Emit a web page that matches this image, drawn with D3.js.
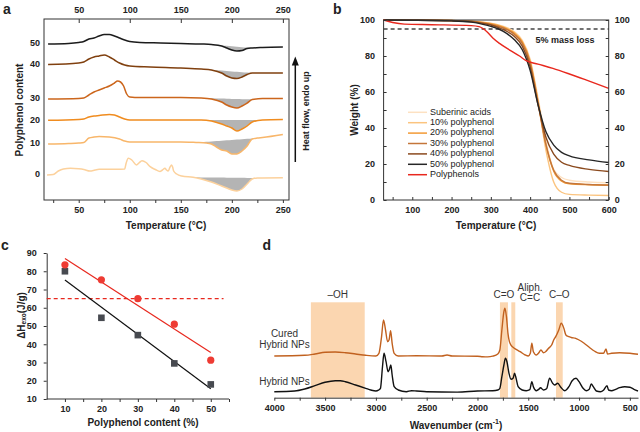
<!DOCTYPE html>
<html><head><meta charset="utf-8">
<script src="https://cdn.jsdelivr.net/npm/d3@7"></script>
<style>body{margin:0;background:#fff} svg{display:block}</style>
</head><body>
<svg id="c" width="640" height="432"></svg>
<script>
// ================= DATA =================
// Panel a: DSC curves [temperature (°C), heat flow (a.u., stacked)]
const dscLabels = ["50","40","30","20","10","0"];
const dsc50 = [[20,156],[40,156.5],[50,157.5],[55,158.5],[60,161],[65,162],[70,164],[75,165.5],[80,165.5],[85,164],[90,162],[95,160],[100,158.5],[110,157.5],[130,157],[150,156.5],[170,156],[180,155.5],[190,154],[195,152],[200,150],[205,149],[210,149.5],[215,151.5],[220,152],[230,152.5],[250,153]];
const dsc40 = [[20,135.5],[50,137],[55,138],[60,141],[65,143],[70,144],[75,145],[80,143],[85,140],[90,137],[95,135],[100,134],[120,133],[150,132],[170,131],[180,130],[190,127],[195,124],[200,122],[205,121.5],[210,123],[215,125.5],[220,127],[230,127],[250,127]];
const dsc30 = [[20,101],[50,101.5],[55,102],[60,105],[65,108],[70,110],[75,112],[80,114],[85,117],[88,119],[91,118],[94,114],[97,106],[100,103],[110,102.5],[150,102.5],[170,102],[180,101],[190,98],[195,95],[200,93],[205,92],[210,94],[215,97],[220,100.5],[230,101.5],[250,101.5]];
const dsc20 = [[20,79.7],[50,80.5],[55,81],[60,83],[65,84],[70,84.5],[80,85.5],[85,85],[90,83],[95,81],[100,80],[150,80],[170,80],[180,79],[190,76],[195,74],[200,72],[205,69],[210,71],[215,74],[220,78],[230,80],[250,80.5]];
const dsc10 = [[20,56],[40,56.5],[50,57],[55,57.5],[60,62],[65,63],[70,63.5],[80,63],[90,61],[95,59],[100,58],[150,58],[165,57.5],[175,57],[180,56],[185,53],[190,50],[195,49],[200,46],[205,46],[210,49],[215,54],[220,61],[225,62],[230,62.5],[250,65.5]];
const dsc0 = [[19,25],[25,25.5],[30,29],[35,31],[42,31.7],[50,31.2],[55,30.5],[61,29],[66,30],[70,30.7],[87,30.7],[95,31],[96.5,37],[98.6,41.7],[102,40],[106.7,35],[109,37],[112,39.3],[116,37.5],[120,33.3],[125,30.5],[129.6,28.5],[132,30],[134.5,31.7],[136,30],[137.7,29],[139.5,33],[141,35],[142,33],[143,29],[146,26],[151,24],[162,22.7],[170,21],[180,18],[190,14],[195,12],[200,10],[205,9],[210,11],[215,16],[220,21],[225,22],[250,22.3]];
const dscPeakRanges = [[180,220],[170,220],[170,220],[170,230],[165,225],[162,225]];

// Panel b: TGA [temperature (°C)] and weight (%)
const tgaTemps = [27,100,200,250,280,300,320,340,360,380,400,420,440,460,480,500,550,600];
const tgaSuberinic = [100,100,99.8,99.4,98.7,98.2,97.3,95.9,93.5,88.8,78.5,57,33,17,12.5,11,10,9.6];
const tga10 = [100,100,99.8,99.4,98.7,98.1,97.1,95.6,93.2,88.3,77.5,55,28,10,4.3,3.1,2.7,2.5];
const tga20 = [100,100,99.7,99.3,98.6,97.9,96.8,95.2,92.6,87.8,77,55,31,16,10.5,9,8.5,8.2];
const tga30 = [100,100,99.7,99.2,98.4,97.6,96.4,94.8,92,87,76,54,31,16.5,11,9.3,8.6,8.3];
const tga40 = [100,99.9,99.6,99,98.1,97.2,95.8,93.8,90.8,85.5,74,53,35,25.5,21,19.2,17,15.8];
const tga50 = [100,99.9,99.5,98.8,97.6,96.5,95,92.6,89,83.5,72,53,38,30.5,26.5,24.5,22.3,20.8];
const tgaPolyphenols = [[27,100],[50,98.6],[80,97.7],[150,97.4],[250,96.9],[270,96.3],[290,93.5],[305,90],[322,87],[348,83.3],[373,80],[390,77.4],[420,75.5],[458,73.1],[500,70],[542,66.7],[600,62]];
const tgaNames = ["Suberinic acids","10% polyphenol","20% polyphenol","30% polyphenol","40% polyphenol","50% polyphenol","Polyphenols"];
const massLossLevel = 95;

// Panel c: exothermic enthalpy vs polyphenol content
const cContent = [10,20,30,40,50];
const cRed = [83.5,75.3,65,51,31.3];
const cBlack = [80,54.5,45,29.5,18];
const cThreshold = 65;

// Panel d: FTIR [wavenumber (cm-1), absorbance (a.u., stacked)]
const ftirHybrid = [[4000,6],[3800,6.7],[3700,8.7],[3600,12],[3500,15.4],[3400,17],[3350,17],[3300,16],[3200,12.7],[3100,9.4],[3050,7.7],[3000,6.7],[2975,7.5],[2955,9.4],[2935,31],[2920,44.4],[2900,36],[2880,26],[2868,28],[2853,32.7],[2840,22.7],[2820,11],[2780,7.7],[2700,6],[2650,7],[2600,6.7],[2500,6],[2200,5.6],[2000,6.7],[1850,7],[1800,7.7],[1780,9.4],[1760,21],[1740,32.7],[1725,39.4],[1710,36],[1690,24.4],[1670,18.4],[1650,19.4],[1635,24.4],[1620,19.4],[1600,11],[1560,7.7],[1520,7],[1485,8],[1465,16],[1450,11],[1420,7],[1395,8.5],[1380,10],[1350,7.7],[1320,9],[1290,19.4],[1260,14.4],[1240,12.7],[1210,14.4],[1180,10.4],[1140,7],[1100,11],[1070,16.7],[1030,19.4],[1000,16],[960,9.4],[930,7],[900,8.4],[880,13.7],[860,11],[830,6.7],[790,6],[760,7.5],[725,12],[710,7.7],[680,7],[640,8.4],[600,10],[550,11],[500,10.4],[460,8.4],[420,6.7]];
const ftirCured = [[4000,41.7],[3700,42.4],[3600,43.7],[3500,45.4],[3400,45.7],[3300,45],[3200,43.7],[3100,42.4],[3000,41.7],[2970,44.4],[2945,60.4],[2925,77.7],[2905,67.7],[2885,56],[2870,58],[2855,67],[2840,54.4],[2820,44.4],[2780,41.7],[2600,42],[2350,41.7],[2300,42.7],[2250,41.7],[2000,41.5],[1950,41],[1900,40.8],[1850,41.5],[1800,43.7],[1780,47.7],[1760,67.7],[1740,86],[1730,89.4],[1715,81],[1700,64.4],[1680,54.4],[1650,50.4],[1620,48.4],[1580,46],[1530,42.7],[1500,41.7],[1480,44.4],[1465,54.4],[1450,46],[1420,42.7],[1400,44.4],[1375,47.7],[1350,45],[1330,46],[1300,49.4],[1270,52.7],[1250,57.7],[1230,61],[1200,67.7],[1175,74.4],[1150,69.4],[1130,62.7],[1100,61],[1070,60],[1040,59.5],[1000,57.7],[950,54.4],[900,50.4],[850,46.7],[800,44.4],[760,44.4],[735,48.7],[720,43.7],[680,44.4],[600,45],[500,44.4],[420,43.4]];
const ftirBandNames = ["–OH","C=O","Aliph. C=C","C–O"];
const ftirBands = [[3640,3110],[1779,1700],[1667,1628],[1227,1161]];
const ftirBandTop = 95.4;

// ================= DRAW =================
const FONT = '"Liberation Sans", Arial, Helvetica, sans-serif';
const svg = d3.select("#c");
svg.append("rect").attr("width",640).attr("height",432).attr("fill","#fff");

function styleAxis(g, size, bold) {
  g.attr("font-family", FONT).attr("font-size", size).attr("font-weight", bold ? "bold" : "normal");
  g.selectAll(".domain").attr("stroke", "#333");
  g.selectAll(".tick line").attr("stroke", "#333");
  g.selectAll(".tick text").attr("fill", "#222");
}
function txt(x, y, s, opt = {}) {
  const t = svg.append("text").attr("x", x).attr("y", y)
    .attr("font-family", FONT).attr("font-size", opt.size || 10)
    .attr("font-weight", opt.weight || "bold").attr("fill", opt.fill || "#222")
    .attr("text-anchor", opt.anchor || "middle").attr("dominant-baseline", opt.baseline || "middle");
  if (opt.rotate) t.attr("transform", `rotate(${opt.rotate},${x},${y})`);
  if (s !== null) t.text(s);
  return t;
}

// ---- Panel a
const xa = d3.scaleLinear().domain([16, 256]).range([44, 289]);
const ya = d3.scaleLinear().domain([0, 181]).range([200, 19]);
const dscSeries = [dsc50, dsc40, dsc30, dsc20, dsc10, dsc0];
const dscColors = ["#1c1c1c", "#80400f", "#cc661c", "#f08c1f", "#f8b66a", "#fcd19c"];
const ga = svg.append("g");
dscSeries.forEach((s, i) => {
  const [t1, t2] = dscPeakRanges[i];
  const pts = s.filter(p => p[0] >= t1 && p[0] <= t2);
  const v1 = pts[0][1], v2 = pts[pts.length - 1][1];
  const base = t => v1 + (v2 - v1) * (t - t1) / (t2 - t1);
  ga.append("path").datum(pts)
    .attr("d", d3.area().x(d => xa(d[0])).y0(d => ya(base(d[0]))).y1(d => ya(Math.min(d[1], base(d[0])))).curve(d3.curveMonotoneX))
    .attr("fill", "#b4b4b4");
});
dscSeries.forEach((s, i) => {
  ga.append("path").datum(s)
    .attr("d", d3.line().x(d => xa(d[0])).y(d => ya(d[1])).curve(d3.curveMonotoneX))
    .attr("fill", "none").attr("stroke", dscColors[i]).attr("stroke-width", 1.5);
  txt(40, ya(s[0][1]), dscLabels[i], { size: 9, anchor: "end" });
});
ga.append("rect").attr("x", xa(16)).attr("y", ya(181)).attr("width", xa(256) - xa(16)).attr("height", ya(0) - ya(181))
  .attr("fill", "none").attr("stroke", "#333").attr("stroke-width", 1);
const axATop = svg.append("g").attr("transform", `translate(0,${ya(181)})`)
  .call(d3.axisTop(xa).tickValues([50, 100, 150, 200, 250]).tickSizeInner(-4).tickSizeOuter(0).tickPadding(6.5).tickFormat(d3.format("d")));
axATop.select(".domain").remove(); styleAxis(axATop, 9, true);
const axABot = svg.append("g").attr("transform", `translate(0,${ya(0)})`)
  .call(d3.axisBottom(xa).tickValues(d3.range(25, 251, 25)).tickSize(3).tickSizeOuter(0).tickPadding(3.5).tickFormat(d => d % 50 === 0 ? d : ""));
axABot.select(".domain").remove(); styleAxis(axABot, 9, true);
txt(166, 226.5, "Temperature (°C)", { size: 10 });
txt(20, 110, "Polyphenol content", { size: 10, rotate: -90 });
// heat flow arrow
svg.append("line").attr("x1", 295.3).attr("x2", 295.3).attr("y1", 162).attr("y2", 64).attr("stroke", "#111").attr("stroke-width", 1.5);
svg.append("path").attr("d", "M295.3,56.5 L291.8,65.5 L298.8,65.5 Z").attr("fill", "#111");
txt(307, 111, "Heat flow, endo up", { size: 9, rotate: -90 });
txt(3, 14, "a", { size: 14, anchor: "start", baseline: "auto" });

// ---- Panel b
const xb = d3.scaleLinear().domain([27, 600]).range([383.6, 608.7]);
const yb = d3.scaleLinear().domain([0, 100]).range([200, 20]);
const tgaSeries = [tgaSuberinic, tga10, tga20, tga30, tga40, tga50].map(arr => arr.map((v, i) => [tgaTemps[i], v]));
tgaSeries.push(tgaPolyphenols);
const tgaColors = ["#fde1c2", "#fbc47f", "#f39a35", "#c4763a", "#8b4a1e", "#262626", "#e8281e"];
const gb = svg.append("g");
gb.append("line").attr("x1", xb(27)).attr("x2", xb(600)).attr("y1", yb(massLossLevel)).attr("y2", yb(massLossLevel))
  .attr("stroke", "#444").attr("stroke-width", 1.4).attr("stroke-dasharray", "4,3");
tgaSeries.forEach((s, i) => {
  gb.append("path").datum(s)
    .attr("d", d3.line().x(d => xb(d[0])).y(d => yb(d[1])).curve(d3.curveMonotoneX))
    .attr("fill", "none").attr("stroke", tgaColors[i]).attr("stroke-width", 1.4);
});
gb.append("rect").attr("x", xb(27)).attr("y", yb(100)).attr("width", xb(600) - xb(27)).attr("height", yb(0) - yb(100))
  .attr("fill", "none").attr("stroke", "#333").attr("stroke-width", 1);
const axBBot = svg.append("g").attr("transform", `translate(0,${yb(0)})`)
  .call(d3.axisBottom(xb).tickValues(d3.range(50, 601, 50)).tickSizeInner(-3).tickSizeOuter(0).tickPadding(6.5).tickFormat(d => d % 100 === 0 ? d : ""));
axBBot.select(".domain").remove(); styleAxis(axBBot, 9, true);
const axBL = svg.append("g").attr("transform", `translate(${xb(27)},0)`)
  .call(d3.axisLeft(yb).tickValues(d3.range(0, 101, 10)).tickSizeInner(-3).tickSizeOuter(0).tickPadding(8.5).tickFormat(d => d % 20 === 0 ? d : ""));
axBL.select(".domain").remove(); styleAxis(axBL, 9, true);
const axBR = svg.append("g").attr("transform", `translate(${xb(600)},0)`)
  .call(d3.axisRight(yb).tickValues(d3.range(0, 101, 10)).tickSizeInner(-3).tickSizeOuter(0).tickPadding(6).tickFormat(d => d % 20 === 0 ? d : ""));
axBR.select(".domain").remove(); styleAxis(axBR, 9, true);
txt(496, 226.5, "Temperature (°C)", { size: 10 });
txt(355, 110, "Weight (%)", { size: 10, rotate: -90 });
txt(565, 40.5, "5% mass loss", { size: 9 });
tgaNames.forEach((n, i) => {
  const y = 112.3 + i * 10.4;
  svg.append("line").attr("x1", 408).attr("x2", 427).attr("y1", y).attr("y2", y).attr("stroke", tgaColors[i]).attr("stroke-width", 1.5);
  txt(430, y, n, { size: 9, weight: "normal", anchor: "start" });
});
txt(333, 14, "b", { size: 14, anchor: "start", baseline: "auto" });

// ---- Panel c
const xc = d3.scaleLinear().domain([5, 55]).range([46.7, 229]);
const yc = d3.scaleLinear().domain([10, 90]).range([399, 253]);
const axCB = svg.append("g").attr("transform", `translate(0,${yc(10)})`)
  .call(d3.axisBottom(xc).tickValues(d3.range(10, 56, 5)).tickSize(3).tickSizeOuter(0).tickPadding(4).tickFormat(d => d % 10 === 0 ? d : ""));
styleAxis(axCB, 9, true);
axCB.select(".domain").attr("d", `M${xc(5)},0H${xc(55)}`);
const axCL = svg.append("g").attr("transform", `translate(${xc(5)},0)`)
  .call(d3.axisLeft(yc).tickValues(d3.range(10, 91, 10)).tickSize(3).tickSizeOuter(0).tickPadding(7));
styleAxis(axCL, 9, true);
function fit(xs, ys) {
  const mx = d3.mean(xs), my = d3.mean(ys);
  const b = d3.sum(xs, (x, i) => (x - mx) * (ys[i] - my)) / d3.sum(xs, x => (x - mx) ** 2);
  return x => my + b * (x - mx);
}
const fr = fit(cContent, cRed), fb = fit(cContent, cBlack);
svg.append("line").attr("x1", xc(5)).attr("x2", xc(53.5)).attr("y1", yc(cThreshold)).attr("y2", yc(cThreshold))
  .attr("stroke", "#e8281e").attr("stroke-width", 1.4).attr("stroke-dasharray", "4,3");
[[fr, "#e8281e"], [fb, "#111"]].forEach(([f, c]) => {
  svg.append("line").attr("x1", xc(10)).attr("x2", xc(50)).attr("y1", yc(f(10))).attr("y2", yc(f(50)))
    .attr("stroke", c).attr("stroke-width", 1.2);
});
svg.append("g").selectAll("rect").data(cContent).join("rect")
  .attr("x", (d) => xc(d) - 3.3).attr("y", (d, i) => yc(cBlack[i]) - 3.3).attr("width", 6.6).attr("height", 6.6).attr("fill", "#474a50");
svg.append("g").selectAll("circle").data(cContent).join("circle")
  .attr("cx", d => xc(d)).attr("cy", (d, i) => yc(cRed[i])).attr("r", 3.6).attr("fill", "#ee3b33");
txt(143, 423.3, "Polyphenol content (%)", { size: 10 });
const yl = txt(21.7, 315.5, null, { size: 10, rotate: -90 });
yl.append("tspan").text("ΔH");
yl.append("tspan").attr("font-size", 6.5).attr("dy", 2.5).text("exo");
yl.append("tspan").attr("dy", -2.5).text("(J/g)");
txt(1, 250, "c", { size: 14, anchor: "start", baseline: "auto" });

// ---- Panel d
const xd = d3.scaleLinear().domain([4000, 420]).range([274.3, 638]);
const yd = d3.scaleLinear().domain([0, 100]).range([397.7, 297.7]);
ftirBands.forEach(([a, b]) => {
  svg.append("rect").attr("x", xd(a)).attr("width", xd(b) - xd(a)).attr("y", yd(ftirBandTop)).attr("height", yd(0) - yd(ftirBandTop))
    .attr("fill", "#fbd6b0");
});
[[ftirCured, "#c1611f"], [ftirHybrid, "#111"]].forEach(([s, c]) => {
  svg.append("path").datum(s).attr("d", d3.line().x(d => xd(d[0])).y(d => yd(d[1])).curve(d3.curveMonotoneX))
    .attr("fill", "none").attr("stroke", c).attr("stroke-width", 1.4);
});
const axD = svg.append("g").attr("transform", `translate(0,${yd(0)})`)
  .call(d3.axisBottom(xd).tickValues(d3.range(4000, 499, -250)).tickSize(3).tickSizeOuter(0).tickPadding(4).tickFormat(d => d % 500 === 0 ? d : ""));
styleAxis(axD, 9, true);
// band labels
const bandMid = b => (b[0] + b[1]) / 2;
txt(xd(bandMid(ftirBands[0])), 295, ftirBandNames[0], { size: 10, weight: "normal", fill: "#333" });
txt(xd(bandMid(ftirBands[1])), 295, ftirBandNames[1], { size: 10, weight: "normal", fill: "#333" });
const al = ftirBandNames[2].split(" ");
txt(530, 288.3, al[0], { size: 10, weight: "normal", fill: "#333" });
txt(530, 298.5, al[1], { size: 10, weight: "normal", fill: "#333" });
txt(xd(bandMid(ftirBands[3])), 295, ftirBandNames[3], { size: 10, weight: "normal", fill: "#333" });
txt(284.5, 334, "Cured", { size: 10, weight: "normal", fill: "#333" });
txt(284.5, 345, "Hybrid NPs", { size: 10, weight: "normal", fill: "#333" });
txt(284.5, 382.7, "Hybrid NPs", { size: 10, weight: "normal", fill: "#333" });
const wl = txt(456, 425.7, null, { size: 10 });
wl.append("tspan").text("Wavenumber (cm");
wl.append("tspan").attr("font-size", 7).attr("dy", -4).text("-1");
wl.append("tspan").attr("dy", 4).text(")");
txt(262.5, 250, "d", { size: 14, anchor: "start", baseline: "auto" });
</script>
</body></html>
